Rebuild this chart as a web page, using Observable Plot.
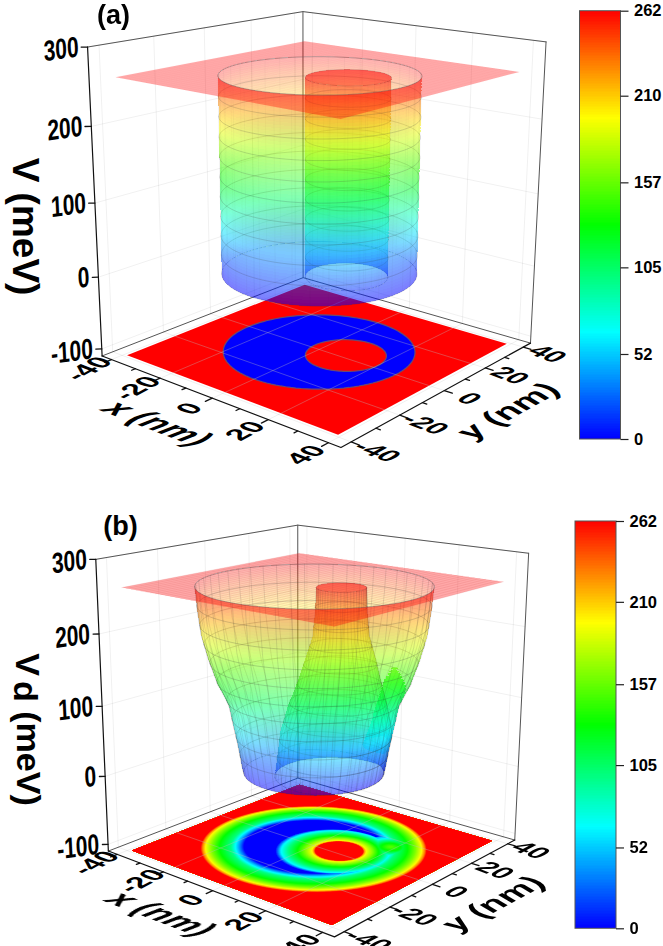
<!DOCTYPE html>
<html><head><meta charset="utf-8">
<script src="https://cdn.jsdelivr.net/npm/d3@7"></script>
<script src="https://cdn.jsdelivr.net/npm/@observablehq/plot@0.6"></script>
<style>html,body{margin:0;padding:0;background:#fff}svg{display:block;filter:blur(.35px)}</style>
</head><body><div id="chart"></div>
<script>
// ---------- axis values ----------
const xTicks = [-40,-20,0,20,40];
const yTicks = [-40,-20,0,20,40];
const minorTicks = [-30,-10,10,30];
const zTicks = [-100,0,100,200,300];
const colorTicks = [0,52,105,157,210,262];
const colorStops = [0,65.5,131,196.5,262];
const colorRange = ["#0000ff","#00ffff","#00ff00","#ffff00","#ff0000"];
const topV = 262, boxXY = 44, planeXY = 39, boxZ0 = -110, boxZ1 = 300;

// ---------- surface profiles: level -> radius, centre ----------
const cylLevels = [0,262];
const cylRadius = [27.7,27.7];
const cylCx = [0,0], cylCy = [0,0];
const postRadius = [11.6,11.6];
const postCx = [8.5,8.5], postCy = [1.8,1.8];

const funnelLevels = [0,10,25,50,65,100,131,165,196,230,262];
const funnelRadius = [21,21.5,22,23,23.7,25.2,28.5,31,32.8,33.8,34.4];
const funnelCx = funnelLevels.map(()=>0), funnelCy = funnelLevels.map(()=>0);
const coneLevels = [0,30,65,100,131,165,196,230,262];
const coneRadius = [17.5,17,16.4,14.5,12.3,10.2,8.2,7.5,7.2];
const coneCx = [7.2,7.4,7.7,8,8.3,8.5,8.6,8.6,8.6];
const coneCy = [0.7,0.9,1.1,1.3,1.6,1.8,1.8,1.8,1.8];
const bumpLevels = [40,65,100,131,150];
const bumpRadius = [9,7,5,3,0.8];
const bumpCx = [18.5,18.5,18.5,18.5,18.5], bumpCy = [14.5,14.5,14.5,14.5,14.5];

// camera calibration: [x, y, z, screenX, screenY]
const cameraA = [
 [-44,-44,-110,101,355],[44,-44,-110,341,447],[44,44,-110,530,342],[-44,44,-110,303,277],
 [-44,-44,300,87.8,46.5],[-44,44,300,303,11],[44,44,300,546,41],
 [-39,-39,262,115,76],[-39,39,262,303,41],[39,39,262,519,72],[39,-39,262,339,119],
 [-39,-39,-110,127,355],[-39,39,-110,304,285],[39,39,-110,506,343],[39,-39,-110,337.5,434.6]];
const cameraB = [
 [-44,-44,-110,108.5,850],[44,-44,-110,334,937],[44,44,-110,514.8,838.8],[-44,44,-110,298.2,776.8],
 [-44,-44,300,95.7,558.2],[-44,44,300,298.2,524.4],[44,44,300,527.9,553],
 [-39,-39,262,121.2,587.1],[-39,39,262,298.2,552.7],[39,39,262,503.4,582],[39,-39,262,332.3,626],
 [-39,-39,-110,131.5,850],[-39,39,-110,296.8,786.5],[39,39,-110,491.7,838.8],[39,-39,-110,331.3,924.9]];

// ---------- projective camera solved by least squares ----------
function solveCamera(pts){
  const n=11, A=Array.from({length:n},()=>new Array(n+1).fill(0));
  const add=(r,b)=>{for(let i=0;i<n;i++){for(let j=0;j<n;j++)A[i][j]+=r[i]*r[j];A[i][n]+=r[i]*b;}};
  for(const [x,y,z,u,v] of pts){
    const X=x/44,Y=y/44,Z=(z-95)/205,U=(u-300)/300,V=(v-240)/300;
    add([X,Y,Z,1,0,0,0,0,-U*X,-U*Y,-U*Z],U);
    add([0,0,0,0,X,Y,Z,1,-V*X,-V*Y,-V*Z],V);
  }
  for(let c=0;c<n;c++){
    let p=c;for(let r=c+1;r<n;r++)if(Math.abs(A[r][c])>Math.abs(A[p][c]))p=r;
    [A[c],A[p]]=[A[p],A[c]];
    for(let r=0;r<n;r++){if(r===c)continue;const f=A[r][c]/A[c][c];for(let k=c;k<=n;k++)A[r][k]-=f*A[c][k];}
  }
  const h=A.map((r,i)=>r[n]/r[i]);
  return ([x,y,z])=>{
    const X=x/44,Y=y/44,Z=(z-95)/205,w=h[8]*X+h[9]*Y+h[10]*Z+1;
    return [300+300*(h[0]*X+h[1]*Y+h[2]*Z+h[3])/w, 240+300*(h[4]*X+h[5]*Y+h[6]*Z+h[7])/w];
  };
}

const rad=d=>d*Math.PI/180;
function profile(levels,r,cx,cy,limit){
  const R=d3.scaleLinear(levels,r),CX=d3.scaleLinear(levels,cx),CY=d3.scaleLinear(levels,cy);
  return {z0:levels[0],z1:levels[levels.length-1],limit,at:z=>({r:R(z),cx:CX(z),cy:CY(z)})};
}
const circlePt=(s,z,deg)=>{
  const c=s.at(z);let x=c.cx+c.r*Math.cos(rad(deg)),y=c.cy+c.r*Math.sin(rad(deg));
  if(s.limit){const L=s.limit.at(z).r,d=Math.hypot(x,y);if(d>L){x*=L/d;y*=L/d;}}
  return [x,y,z];
};
const arc=(s,z,a,b,n=48)=>d3.range(n+1).map(i=>circlePt(s,z,a+(b-a)*i/n));

let uid=0;
function layer(cam,polys,opts){
  const rows=[];
  for(const p of polys){const s=uid++;for(const q of p.pts){const [px,py]=cam(q);rows.push({s,px,py,v:p.v});}}
  return Plot.line(rows,{x:"px",y:"py",z:"s",stroke:"none",...opts});
}
const bands=(s,a,b,step=4)=>{
  const out=[];
  for(let z=s.z0;z<s.z1-1e-6;z+=step){
    const z2=Math.min(z+step,s.z1);
    out.push({v:(z+z2)/2,pts:[...arc(s,z2,a,b),...arc(s,z,b,a)]});
  }
  return out;
};
const ringValues=d3.range(0,263,26.2);
const rings=(s,a,b)=>ringValues.filter(z=>z>=s.z0&&z<=s.z1).map(z=>({v:z,pts:arc(s,z,a,b)}));
const meridians=(s,a,b,step)=>d3.range(a,b+.1,step).map(d=>({v:0,pts:d3.range(s.z0,s.z1+.1,(s.z1-s.z0)/24).map(z=>circlePt(s,z,d))}));
const square=(h,z)=>[[-h,-h,z],[-h,h,z],[h,h,z],[h,-h,z],[-h,-h,z]];

function plate(outer,inner,z){
  const o=outer.at(z),c=inner.at(z),phi=Math.atan2(c.cy-o.cy,c.cx-o.cx)*180/Math.PI,pts=[];
  for(let i=0;i<=180;i++){const p=circlePt(outer,z,phi+i*2);if(Math.hypot(p[0]-c.cx,p[1]-c.cy)>=c.r)pts.push(p);}
  for(let i=0;i<=180;i++){const d=phi-i*2,x=c.cx+c.r*Math.cos(rad(d)),y=c.cy+c.r*Math.sin(rad(d));if(Math.hypot(x-o.cx,y-o.cy)<=o.r)pts.push([x,y,z]);}
  return {v:z,pts};
}

function panel(cfg){
  const cam=solveCamera(cfg.camera), m=[];
  const B=boxXY,Z0=boxZ0,Z1=boxZ1,PL=planeXY;
  const out=profile(...cfg.outer), inn=profile(...cfg.inner,cfg.smooth?out:null), bump=cfg.bump?profile(...cfg.bump,out):null;
  const line=(segs,o)=>layer(cam,segs.map(pts=>({pts,v:0})),o);
  // wall grid
  const grid=[];
  for(const t of yTicks)grid.push([[-B,t,Z0],[-B,t,Z1]]);
  for(const t of xTicks)grid.push([[t,B,Z0],[t,B,Z1]]);
  for(const z of zTicks){grid.push([[-B,-B,z],[-B,B,z],[B,B,z]]);}
  for(const t of xTicks)grid.push([[t,-B,Z0],[t,B,Z0]]);
  for(const t of yTicks)grid.push([[-B,t,Z0],[B,t,Z0]]);
  m.push(line(grid,{stroke:"#000",strokeOpacity:.08,strokeWidth:.8}));
  // box
  m.push(line([[[-B,B,Z0],[-B,B,Z1]],[[B,B,Z0],[B,B,Z1]],[[-B,-B,Z1],[-B,B,Z1],[B,B,Z1]],[[-B,-B,Z0],[-B,B,Z0],[B,B,Z0]]],{stroke:"#555",strokeWidth:1}));
  m.push(line([[[-B,-B,Z0],[-B,-B,Z1]],[[-B,-B,Z0],[B,-B,Z0],[B,B,Z0]]],{stroke:"#111",strokeWidth:1.2}));
  // axis ticks
  const tk=[];
  for(const t of xTicks)tk.push([[t,-B,Z0],[t,-B-2.6,Z0]]);
  for(const t of yTicks)tk.push([[B,t,Z0],[B+2.6,t,Z0]]);
  for(const t of minorTicks){tk.push([[t,-B,Z0],[t,-B-1.4,Z0]]);tk.push([[B,t,Z0],[B+1.4,t,Z0]]);}
  for(const z of zTicks)tk.push([[-B,-B,z],[-B-1.2,-B-1.2,z]]);
  m.push(line(tk,{stroke:"#111",strokeWidth:1.3}));
  // floor map
  const floorSq=square(PL,Z0);
  if(cfg.smooth){
    const polys=[{v:0,pts:floorSq}];
    const f=p=>[p[0],p[1],Z0];
    const inn0=profile(...cfg.inner), bump0=profile(...cfg.bump);
    for(let L=6;L<=topV;L+=3){
      polys.push({v:L,pts:[...floorSq,...arc(out,L,-135,225,120).map(f)]});
      polys.push({v:L,pts:arc(inn0,L,0,360,72).map(f)});
      if(L>=bump0.z0&&L<=bump0.z1)polys.push({v:L,pts:arc(bump0,L,0,360,36).map(f)});
    }
    polys.push({v:262,pts:[...floorSq,...arc(out,262,-135,225,120).map(f)]});
    m.push(layer(cam,polys,{fill:"v"}));
  } else {
    const flat=s=>arc(s,0,0,360,120).map(p=>[p[0],p[1],Z0]);
    m.push(layer(cam,[{v:262,pts:floorSq}],{fill:"v"}));
    m.push(layer(cam,[{v:0,pts:flat(out)}],{fill:"v",stroke:"#6b4a70",strokeWidth:1.2}));
    m.push(layer(cam,[{v:262,pts:flat(inn)}],{fill:"v",stroke:"#6b4a70",strokeWidth:1.2}));
  }
  const fg=[];
  for(const t of xTicks.slice(1,4))fg.push([[t,-PL,Z0],[t,PL,Z0]]);
  for(const t of yTicks.slice(1,4))fg.push([[-PL,t,Z0],[PL,t,Z0]]);
  m.push(line(fg,{stroke:"#bbb",strokeOpacity:.45,strokeWidth:.8}));
  // surface, back to front
  const wall={fill:"v",fillOpacity:cfg.alpha,shapeRendering:"crispEdges"};
  const ringStyle={stroke:"#333",strokeOpacity:cfg.ringOp,strokeWidth:.8};
  const merStyle={stroke:"#333",strokeOpacity:cfg.merOp,strokeWidth:.7};
  m.push(layer(cam,bands(out,45,225),wall));
  m.push(layer(cam,rings(out,45,225),ringStyle));
  m.push(layer(cam,meridians(out,45,225,cfg.merStep),merStyle));
  m.push(layer(cam,[plate(out,inn,0)],{fill:"v",fillOpacity:cfg.plateAlpha}));
  m.push(layer(cam,bands(inn,45,225),wall));
  m.push(layer(cam,rings(inn,45,225),ringStyle));
  if(bump){m.push(layer(cam,bands(bump,0,360),{...wall,fillOpacity:.42}));}
  m.push(layer(cam,bands(inn,-135,45),wall));
  m.push(layer(cam,rings(inn,-135,45),ringStyle));
  m.push(layer(cam,meridians(inn,-135,45,cfg.merStep),merStyle));
  m.push(layer(cam,bands(out,-135,45),wall));
  m.push(layer(cam,rings(out,-135,45),ringStyle));
  m.push(layer(cam,meridians(out,-135,45,cfg.merStep),merStyle));
  // cut-off plane with its hole, the post top is part of it
  const planeSq=square(PL,topV);
  m.push(layer(cam,[{v:262,pts:[...planeSq,...arc(out,topV,-135,225,120)]},{v:262,pts:arc(inn,topV,0,360,60)}],{fill:"v",fillOpacity:.34,stroke:"none"}));
  const hatch=d3.range(-PL,PL+.1,2).map(t=>[[t,-PL,topV],[t,PL,topV]]);
  m.push(line(hatch,{stroke:"#c33",strokeOpacity:cfg.hatchOp,strokeWidth:.6}));
  // rim
  m.push(layer(cam,[{v:0,pts:arc(out,topV,0,360,120)}],{stroke:"#777",strokeOpacity:.5,strokeWidth:.7}));

  // labels
  const lab=(name,rows,o)=>{const id=cfg.name+"-"+name;m.push(Plot.text(rows,{x:"px",y:"py",text:"t",ariaLabel:()=>id,fontWeight:"bold",fill:"#000",...o}));return id;};
  const place=(t,p)=>{const [px,py]=cam(p);return {t:String(t),px,py};};
  const dir=(a,b)=>{const p=cam(a),q=cam(b),l=Math.hypot(q[0]-p[0],q[1]-p[1]);return [(q[0]-p[0])/l,(q[1]-p[1])/l];};
  const dx=dir([-20,-B,Z0],[20,-B,Z0]), dy=dir([B,-20,Z0],[B,20,Z0]);
  const mat=(u,su,v,sv)=>[u[0]*su,u[1]*su,v[0]*sv,v[1]*sv,0,0].map(d=>d.toFixed(3)).join(" ");
  const fixes=[];
  fixes.push([lab("xt",xTicks.map(t=>place(t,[t,-B-8.5,Z0])),{fontSize:19}),mat(dy,1.45,dx,1.45)]);
  fixes.push([lab("yt",yTicks.map(t=>place(t,[B+8,t,Z0])),{fontSize:19}),mat(dx,1.45,[-dy[0],-dy[1]],1.35)]);
  const zrows=zTicks.map(z=>{const [px,py]=cam([-B,-B,z]);return {t:String(z),px:px-9,py};});
  fixes.push([lab("zt",zrows,{fontSize:29,textAnchor:"end"}),"0.72 -0.1 0.05 1 0 0"]);
  fixes.push([lab("xl",[place("x (nm)",[0,-B-20,Z0])],{fontSize:28,fontStyle:"italic"}),mat(dx,1.22,[-dy[0],-dy[1]],1.2)]);
  fixes.push([lab("yl",[place("y (nm)",[B+20,0,Z0])],{fontSize:28,fontStyle:"italic"}),mat(dy,1.22,dx,1.2)]);
  fixes.push([lab("zl",cfg.zLabel,{fontSize:cfg.zFont}),"0 1 -1 0 0 0"]);
  m.push(Plot.text([{t:`(${cfg.name})`,...cfg.tag}],{x:"px",y:"py",text:"t",fontSize:27,fontWeight:"bold",fill:"#000"}));

  // colour bar
  const bar=cfg.bar, by=d3.scaleLinear([0,262],[bar.y0,bar.y1]);
  const vals=d3.range(0,262);
  m.push(Plot.rect(vals,{x1:()=>bar.x0,x2:()=>bar.x1,y1:v=>by(v),y2:v=>by(v+1),fill:v=>v+.5,shapeRendering:"crispEdges"}));
  m.push(Plot.rect([0],{x1:()=>bar.x0,x2:()=>bar.x1,y1:()=>by(0),y2:()=>by(262),fill:"none",stroke:"#555",strokeWidth:1}));
  m.push(Plot.ruleY(colorTicks,{y:v=>by(v),x1:()=>bar.x1,x2:()=>bar.x1+8,stroke:"#222",strokeWidth:1.2}));
  m.push(Plot.text(colorTicks,{x:()=>bar.x1+13,y:v=>by(v),text:v=>String(v),textAnchor:"start",fontSize:16.5,fontWeight:"bold",fill:"#000"}));
  return {marks:m,fixes};
}

const A=panel({name:"a",camera:cameraA,smooth:false,alpha:.3,plateAlpha:.3,ringOp:.22,merOp:.05,merStep:10,hatchOp:.05,
  outer:[cylLevels,cylRadius,cylCx,cylCy],inner:[cylLevels,postRadius,postCx,postCy],
  zLabel:[{t:"V (meV)",px:24,py:226}],zFont:37,tag:{px:113,py:15},bar:{x0:579.5,x1:620.5,y0:439,y1:10.7}});
const Bp=panel({name:"b",camera:cameraB,smooth:true,alpha:.3,plateAlpha:.3,ringOp:.25,merOp:.2,merStep:7.5,hatchOp:.22,
  outer:[funnelLevels,funnelRadius,funnelCx,funnelCy],inner:[coneLevels,coneRadius,coneCx,coneCy],bump:[bumpLevels,bumpRadius,bumpCx,bumpCy],
  zLabel:[{t:"V",px:26,py:664},{t:"d",px:24,py:691},{t:"(meV)",px:27,py:758}],zFont:34,tag:{px:120,py:526},bar:{x0:575,x1:616,y0:928.3,y1:521}});

const svg=Plot.plot({
  width:663,height:946,margin:0,
  style:{fontFamily:"'Liberation Sans',Arial,sans-serif",background:"#fff",color:"#000",overflow:"visible"},
  x:{domain:[0,663],range:[0,663],axis:null},
  y:{domain:[0,946],range:[0,946],axis:null},
  color:{type:"linear",domain:colorStops,range:colorRange,interpolate:"rgb",clamp:true},
  marks:[...A.marks,...Bp.marks]
});
for(const [id,mx] of [...A.fixes,...Bp.fixes]){
  d3.select(svg).selectAll(`text[aria-label="${id}"]`).each(function(){
    const t=this.getAttribute("transform")||"";
    this.setAttribute("transform",`${t} matrix(${mx})`);
  });
}
document.getElementById("chart").append(svg);
</script></body></html>
